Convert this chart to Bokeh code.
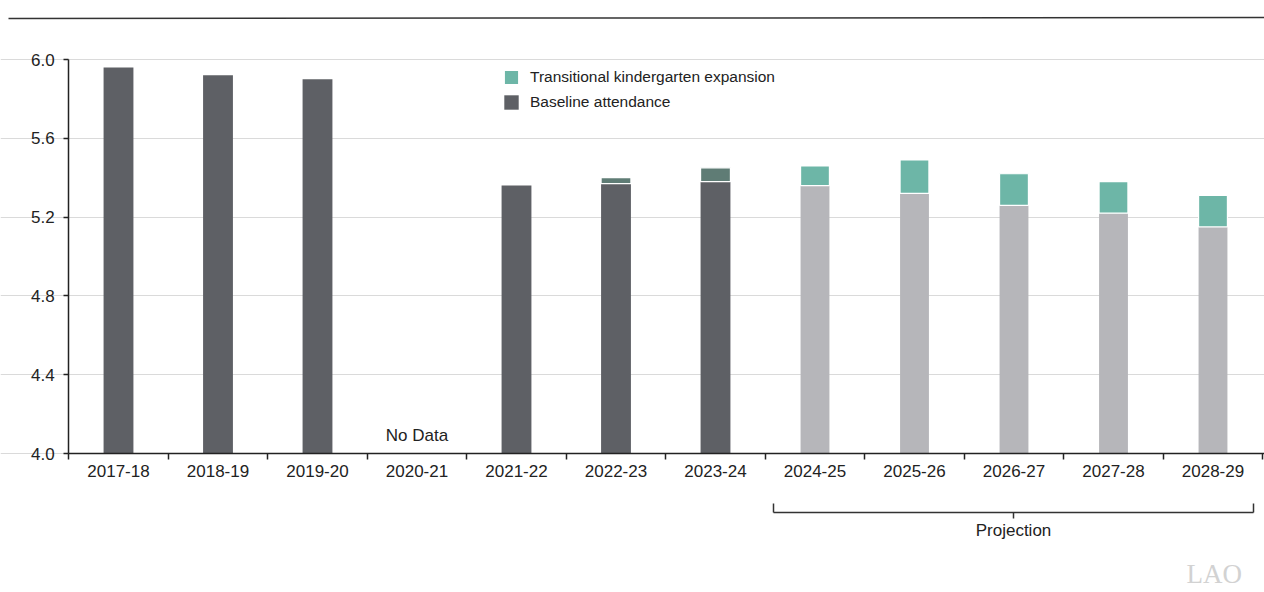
from bokeh.plotting import figure
from bokeh.models import (FixedTicker, Legend, LegendItem, ColumnDataSource, Range1d,
                          Label, PrintfTickFormatter)
from bokeh.embed import file_html
from bokeh.resources import INLINE
from bokeh.core.properties import value

# ---------------- data ----------------
years = ["2017-18", "2018-19", "2019-20", "2020-21", "2021-22", "2022-23",
         "2023-24", "2024-25", "2025-26", "2026-27", "2027-28", "2028-29"]
baseline = [5.96, 5.92, 5.90, None, 5.36, 5.37, 5.38, 5.36, 5.32, 5.26, 5.22, 5.15]
tk_expansion = [0.0, 0.0, 0.0, None, 0.0, 0.03, 0.07, 0.10, 0.17, 0.16, 0.16, 0.16]
is_projection = [False] * 7 + [True] * 5
y_ticks = [4.0, 4.4, 4.8, 5.2, 5.6, 6.0]
no_data_label = "No Data"
projection_label = "Projection"

# ---------------- styling ----------------
FONT = "Liberation Sans"
AXIS_FS = "17px"
DARK = "#5e6065"
DARK_TK = "#5f7c75"
LIGHT = "#b6b6ba"
TEAL = "#6db6a7"
W, H = 1264, 592
px_per_cat = 99.5
first_center_px = 118
px_per_unit = 197.0
y_base_px = 453  # pixel row of 4.0

x_start = -first_center_px / px_per_cat
x_end = (W - first_center_px) / px_per_cat
y_end = 4.0 + y_base_px / px_per_unit
y_start = 4.0 - (H - y_base_px) / px_per_unit

def sx(px):
    return (px - first_center_px) / px_per_cat

def sy(py):
    return 4.0 + (y_base_px - py) / px_per_unit

p = figure(width=W, height=H, output_backend="svg", toolbar_location=None,
           x_range=Range1d(x_start, x_end), y_range=Range1d(y_start, y_end),
           min_border=0, min_border_left=0, min_border_right=0,
           min_border_top=0, min_border_bottom=0, outline_line_color=None,
           background_fill_color="white", border_fill_color="white")

# ---------------- bars ----------------
def build(proj):
    xs, base = [], []
    tx, tb, tt = [], [], []
    for i, (b, t, pr) in enumerate(zip(baseline, tk_expansion, is_projection)):
        if b is None or pr != proj:
            continue
        xs.append(i); base.append(b)
        if t and t > 0:
            tx.append(i); tb.append(b); tt.append(b + t)
    return (ColumnDataSource(dict(x=xs, top=base)),
            ColumnDataSource(dict(x=tx, bottom=tb, top=tt)))

hist_base, hist_tk = build(False)
proj_base, proj_tk = build(True)

r_hb = p.vbar(x="x", top="top", bottom=4.0, width=0.30, source=hist_base,
              fill_color=DARK, line_color=None)
p.vbar(x="x", top="top", bottom="bottom", width=0.30, source=hist_tk,
       fill_color=DARK_TK, line_color="white", line_width=1.2)
p.vbar(x="x", top="top", bottom=4.0, width=0.29, source=proj_base,
       fill_color=LIGHT, line_color=None)
r_pt = p.vbar(x="x", top="top", bottom="bottom", width=0.29, source=proj_tk,
              fill_color=TEAL, line_color="white", line_width=1.2)

# ---------------- axes ----------------
p.xgrid.visible = False
p.ygrid.ticker = FixedTicker(ticks=y_ticks)
p.ygrid.grid_line_color = "#dadada"
p.ygrid.grid_line_width = 1
p.ygrid.bounds = (-0.5, x_end)

xa = p.xaxis[0]
xa.fixed_location = 4.0
xa.bounds = (-0.5, x_end)
xa.ticker = FixedTicker(ticks=list(range(len(years))),
                        minor_ticks=[i - 0.5 for i in range(len(years) + 1)])
xa.major_label_overrides = {i: y for i, y in enumerate(years)}
xa.major_tick_line_color = None
xa.major_tick_out = 6
xa.minor_tick_in = 0
xa.minor_tick_out = 6
xa.minor_tick_line_color = "#222222"
xa.minor_tick_line_width = 1.5
xa.axis_line_color = "#222222"
xa.axis_line_width = 1.5
xa.major_label_standoff = 5
xa.major_label_text_font = FONT
xa.major_label_text_font_size = AXIS_FS
xa.major_label_text_color = "#222222"

ya = p.yaxis[0]
ya.fixed_location = -0.5
ya.bounds = (4.0, 6.0)
ya.ticker = FixedTicker(ticks=y_ticks)
ya.formatter = PrintfTickFormatter(format="%.1f")
ya.minor_tick_line_color = None
ya.major_tick_in = 0
ya.major_tick_out = 5
ya.major_tick_line_color = "#222222"
ya.major_tick_line_width = 1.5
ya.axis_line_color = "#222222"
ya.axis_line_width = 1.5
ya.major_label_standoff = 9
ya.major_label_text_font = FONT
ya.major_label_text_font_size = AXIS_FS
ya.major_label_text_color = "#222222"

# ---------------- decorations ----------------
# top rule
p.segment(x0=[sx(8)], y0=[sy(18)], x1=[x_end], y1=[sy(17)],
          line_color="#333333", line_width=1.5)

# no data label
p.text(x=[years.index("2020-21")], y=[sy(435)], text=[no_data_label],
       text_font=value(FONT), text_font_size=AXIS_FS, text_color="#222222",
       text_align="center", text_baseline="middle")

# projection bracket
bx0, bx1 = sx(773), sx(1253)
bmid = (bx0 + bx1) / 2
p.segment(x0=[bx0, bx0, bx1, bmid], y0=[sy(512), sy(503), sy(503), sy(512)],
          x1=[bx1, bx0, bx1, bmid], y1=[sy(512), sy(512), sy(512), sy(518)],
          line_color="#333333", line_width=1.5)
p.text(x=[bmid], y=[sy(530)], text=[projection_label],
       text_font=value(FONT), text_font_size=AXIS_FS, text_color="#222222",
       text_align="center", text_baseline="middle")

# watermark
p.add_layout(Label(x=1186, y=H - 573, x_units="screen", y_units="screen", text="LAO",
                   text_font="Liberation Serif", text_font_size="27px",
                   text_color="#d2d2d2", text_baseline="middle"))

# legend
legend = Legend(items=[LegendItem(label="Transitional kindergarten expansion", renderers=[r_pt]),
                       LegendItem(label="Baseline attendance", renderers=[r_hb])],
                location=(502, H - 111), orientation="vertical",
                glyph_width=18, glyph_height=18, label_height=18, spacing=7,
                label_standoff=10, padding=0, margin=0,
                border_line_color=None, background_fill_alpha=0,
                label_text_font=FONT, label_text_font_size="15.5px",
                label_text_color="#222222")
p.add_layout(legend, "center")

open("out.html", "w").write(file_html(p, INLINE))
